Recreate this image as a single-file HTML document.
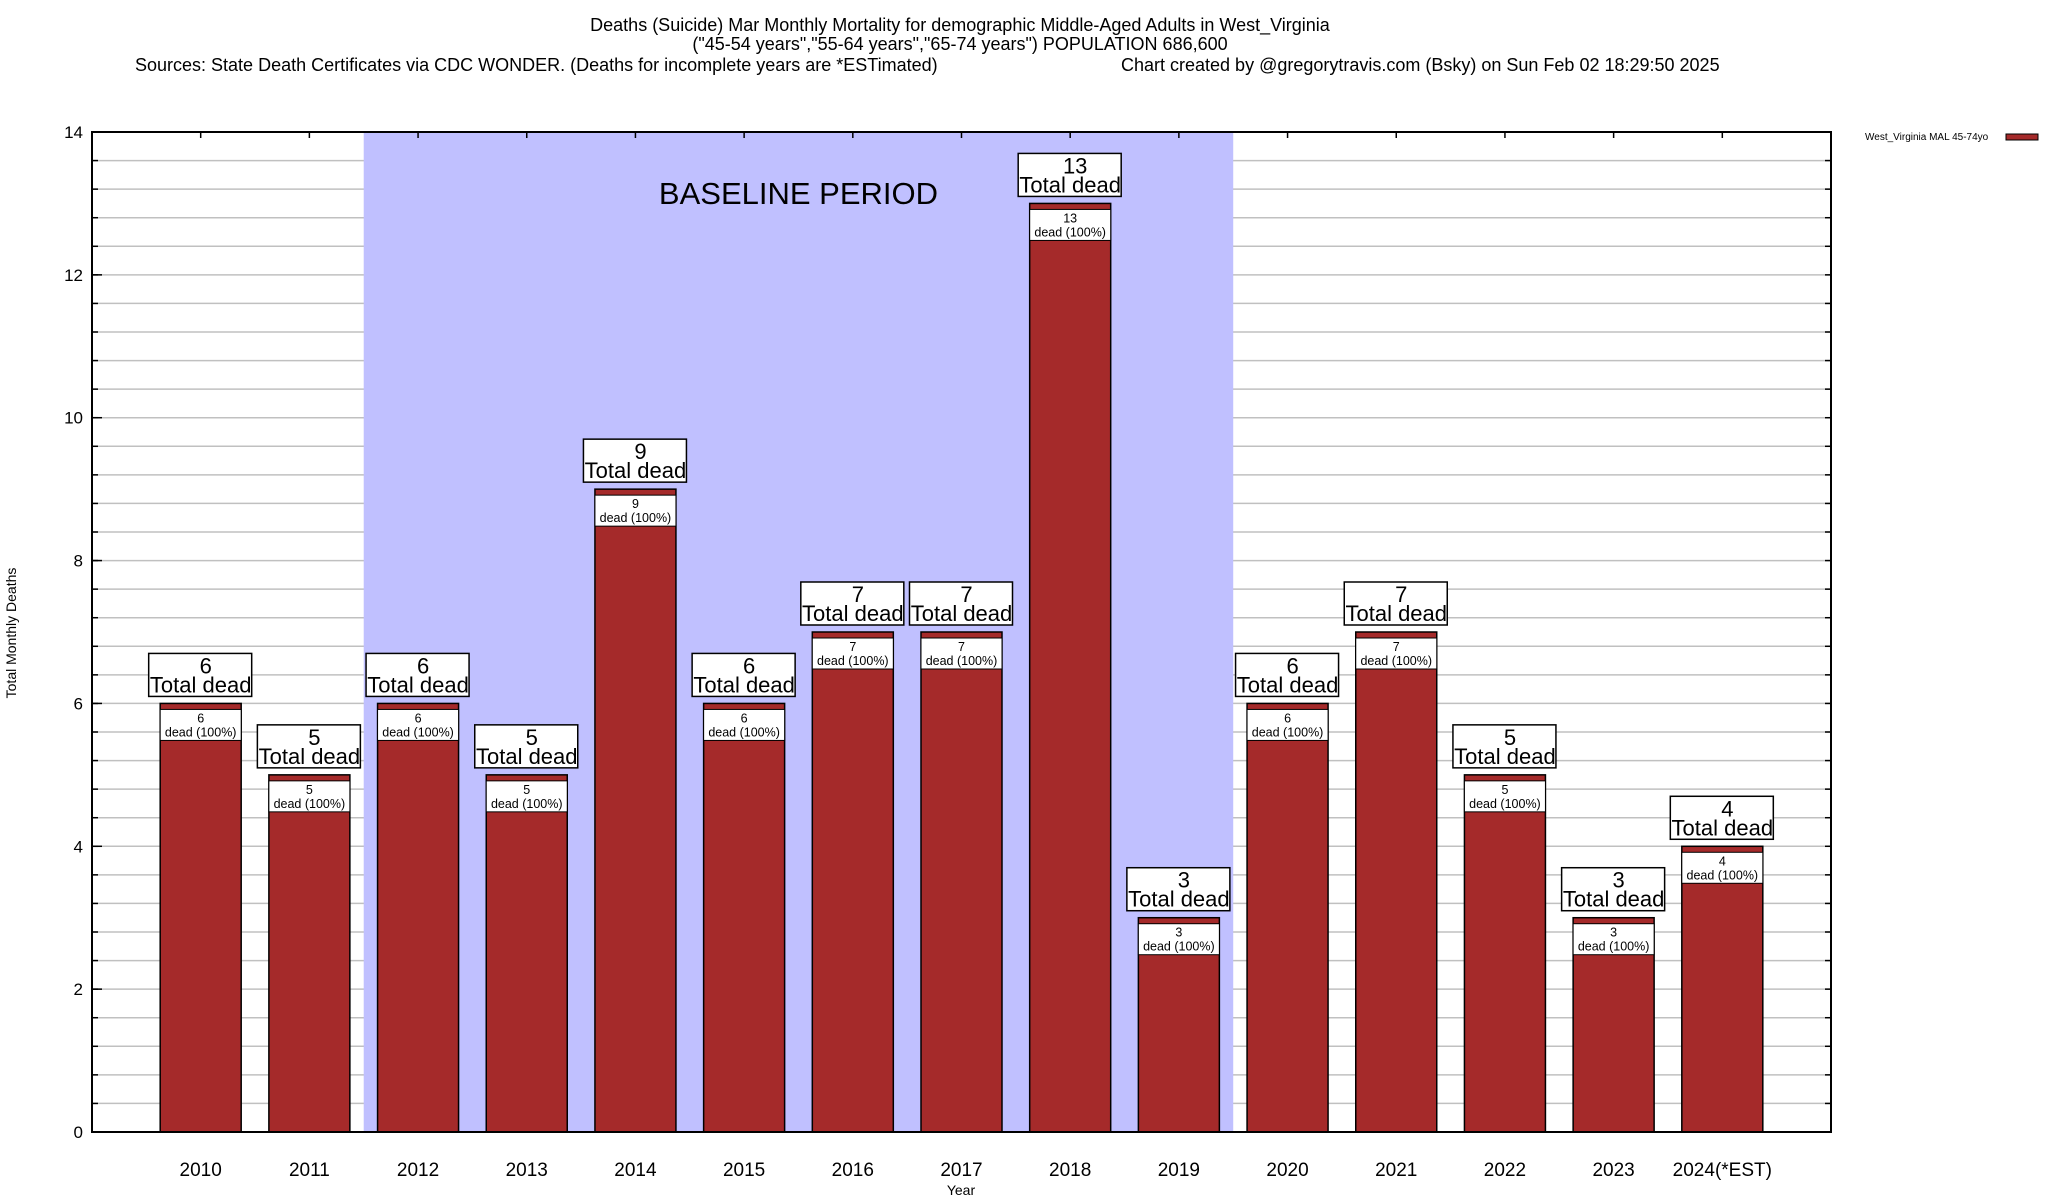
<!DOCTYPE html>
<html><head><meta charset="utf-8"><style>
html,body{margin:0;padding:0;background:#fff;}
svg{display:block;font-family:"Liberation Sans",Arial,sans-serif;}
</style></head><body>
<svg id="chart" width="2048" height="1200" viewBox="0 0 2048 1200" xmlns="http://www.w3.org/2000/svg">
<g font-size="18" fill="#000">
<text x="960" y="31" text-anchor="middle">Deaths (Suicide) Mar Monthly Mortality for demographic Middle-Aged Adults in West_Virginia</text>
<text x="960" y="50" text-anchor="middle">("45-54 years","55-64 years","65-74 years") POPULATION 686,600</text>
<text x="135" y="71">Sources: State Death Certificates via CDC WONDER. (Deaths for incomplete years are *ESTimated)</text>
<text x="1121" y="71">Chart created by @gregorytravis.com (Bsky) on Sun Feb 02 18:29:50 2025</text>
</g>
<g id="grid"></g>
<g id="shade"></g>
<g id="bars"></g>
<g id="axes"></g>
<text x="16" y="633" transform="rotate(-90 16 633)" text-anchor="middle" font-size="14">Total Monthly Deaths</text>
<text x="961" y="1195" text-anchor="middle" font-size="14">Year</text>
<g>
<text x="1865" y="140" font-size="10">West_Virginia MAL 45-74yo</text>
<rect x="2006" y="134" width="32" height="6" fill="#a52a2a" stroke="#000" stroke-width="1"/>
</g>
</svg>
<script>
const categories=["2010","2011","2012","2013","2014","2015","2016","2017","2018","2019","2020","2021","2022","2023","2024(*EST)"];
const deaths=[6,5,6,5,9,6,7,7,13,3,6,7,5,3,4];
const yTicks=[0,2,4,6,8,10,12,14];
const baselineRange=[2012,2019];
const NS="http://www.w3.org/2000/svg";
const L=92,R=1831,T=132,B=1132;
const xs=i=>L+(i+1)*(R-L)/16;
const ys=v=>B-(v/14)*(B-T);
function mk(tag,attrs,parent){const e=document.createElementNS(NS,tag);for(const k in attrs)e.setAttribute(k,attrs[k]);parent.appendChild(e);return e;}
const grid=document.getElementById('grid'),shade=document.getElementById('shade'),bars=document.getElementById('bars'),axes=document.getElementById('axes');
for(let v=0.4;v<14;v+=0.4){const y=ys(v);const g=mk('line',{x1:L,x2:R,y1:y,y2:y,stroke:'#c0c0c0','stroke-width':1.5},grid);


const t1=mk('line',{x1:L,x2:L+6,y1:y,y2:y,stroke:'#000','stroke-width':1.5},axes);


const t2=mk('line',{x1:R-6,x2:R,y1:y,y2:y,stroke:'#000','stroke-width':1.5},axes);

}
const i0=categories.indexOf(String(baselineRange[0])),i1=categories.indexOf(String(baselineRange[1]));
const sx0=(xs(i0)+xs(i0-1))/2,sx1=(xs(i1)+xs(i1+1))/2;
const sr=mk('rect',{x:sx0,y:T,width:sx1-sx0,height:B-T,fill:'#c0c0ff'},shade);


const st=mk('text',{x:(sx0+sx1)/2,y:204,'text-anchor':'middle','font-size':31},shade);
st.textContent='BASELINE PERIOD';


const bw=81;
categories.forEach((c,i)=>{const v=deaths[i],cx=xs(i),yt=ys(v);
const g=mk('g',{},bars);


mk('rect',{x:cx-bw/2,y:yt,width:bw,height:B-yt,fill:'#a52a2a',stroke:'#000','stroke-width':1.5},g);
mk('rect',{x:cx-bw/2,y:yt+6,width:bw,height:31,fill:'#fff',stroke:'#000','stroke-width':1},g);
const a=mk('text',{x:cx,y:yt+19,'text-anchor':'middle','font-size':12.5},g);a.textContent=v;
const b=mk('text',{x:cx,y:yt+33,'text-anchor':'middle','font-size':12.5},g);b.textContent='dead (100%)';
const lb=mk('g',{},bars);


mk('rect',{x:cx-52,y:yt-50,width:103,height:43,fill:'#fff',stroke:'#000','stroke-width':1.5},lb);
const n=mk('text',{x:cx+5,y:yt-30,'text-anchor':'middle','font-size':22},lb);n.textContent=v;
const td=mk('text',{x:cx,y:yt-11,'text-anchor':'middle','font-size':22},lb);td.textContent='Total dead';
const xl=mk('text',{x:cx,y:1176,'text-anchor':'middle','font-size':19},axes);xl.textContent=c;


const tk=mk('line',{x1:cx,x2:cx,y1:T,y2:T+6,stroke:'#000','stroke-width':1.5},axes);


});
yTicks.forEach(v=>{const y=ys(v);const t=mk('text',{x:83,y:y+6,'text-anchor':'end','font-size':17},axes);t.textContent=v;


const tk=mk('line',{x1:L,x2:L+10,y1:y,y2:y,stroke:'#000','stroke-width':1.5},axes);

});
const fr=mk('rect',{x:L,y:T,width:R-L,height:B-T,fill:'none',stroke:'#000','stroke-width':2},axes);


</script>
</body></html>
